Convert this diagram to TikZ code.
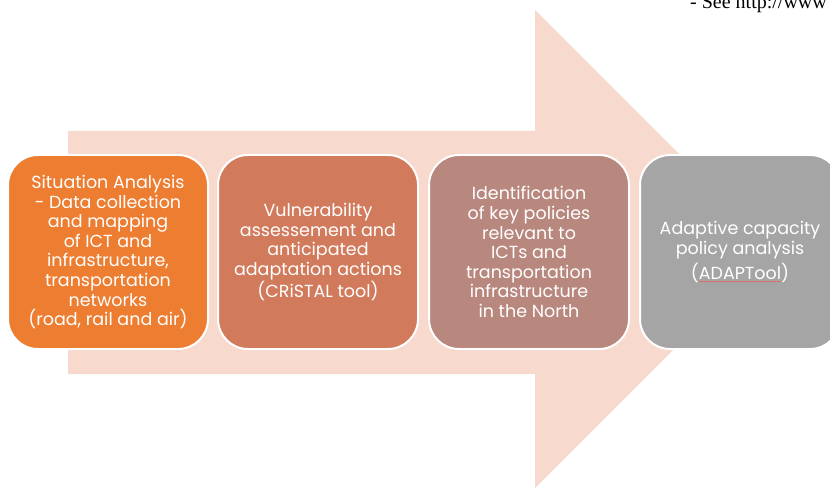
\documentclass[tikz,border=0pt]{standalone}
\usepackage{fontspec}
\setmainfont{Poppins}
\newfontfamily\serifnote{Liberation Serif}
\definecolor{arrowfill}{HTML}{F8D9CE}
\definecolor{boxA}{HTML}{ED7D31}
\definecolor{boxB}{HTML}{D27B5C}
\definecolor{boxC}{HTML}{B8877E}
\definecolor{boxD}{HTML}{A5A5A5}
\definecolor{ulred}{HTML}{D9706B}
\newcommand\spellul[1]{\setbox0\hbox{#1}\rlap{\textcolor{ulred}{\rule[-2.5pt]{\wd0}{0.6pt}}}\box0}
\tikzset{
  stepbox/.style={draw=white, line width=2pt, rounded corners=30pt,
    minimum width=200pt, minimum height=194pt, text=white, align=center,
    font=\fontsize{17.5}{19.6}\selectfont, inner sep=0pt},
}
\begin{document}
\begin{tikzpicture}[x=1pt,y=-1pt]
\useasboundingbox (0,0) rectangle (830,489);
\clip (0,0) rectangle (830,489);
\fill[arrowfill] (68,131) -- (535,131) -- (535,10) -- (774,249) -- (535,488) -- (535,374) -- (68,374) -- cycle;
\node[anchor=base west, font=\serifnote\fontsize{20}{22}\selectfont, text=black, inner sep=0pt] (note) at (690,9) {- See http://www};
\node[stepbox, fill=boxA] (s1) at (108,252) {Situation Analysis\\- Data collection\\and mapping\\of ICT and\\infrastructure,\\transportation\\networks\\(road, rail and air)};
\node[stepbox, fill=boxB] (s2) at (318,252) {Vulnerability\\assessement and\\anticipated\\adaptation actions\\(CRiSTAL tool)};
\node[stepbox, fill=boxC] (s3) at (529,252) {Identification\\of key policies\\relevant to\\ICTs and\\transportation\\infrastructure\\in the North};
\node[stepbox, fill=boxD] (s4) at (740,252) {Adaptive capacity\\policy analysis\\[3pt](\spellul{ADAPTool})};
\end{tikzpicture}
\end{document}
